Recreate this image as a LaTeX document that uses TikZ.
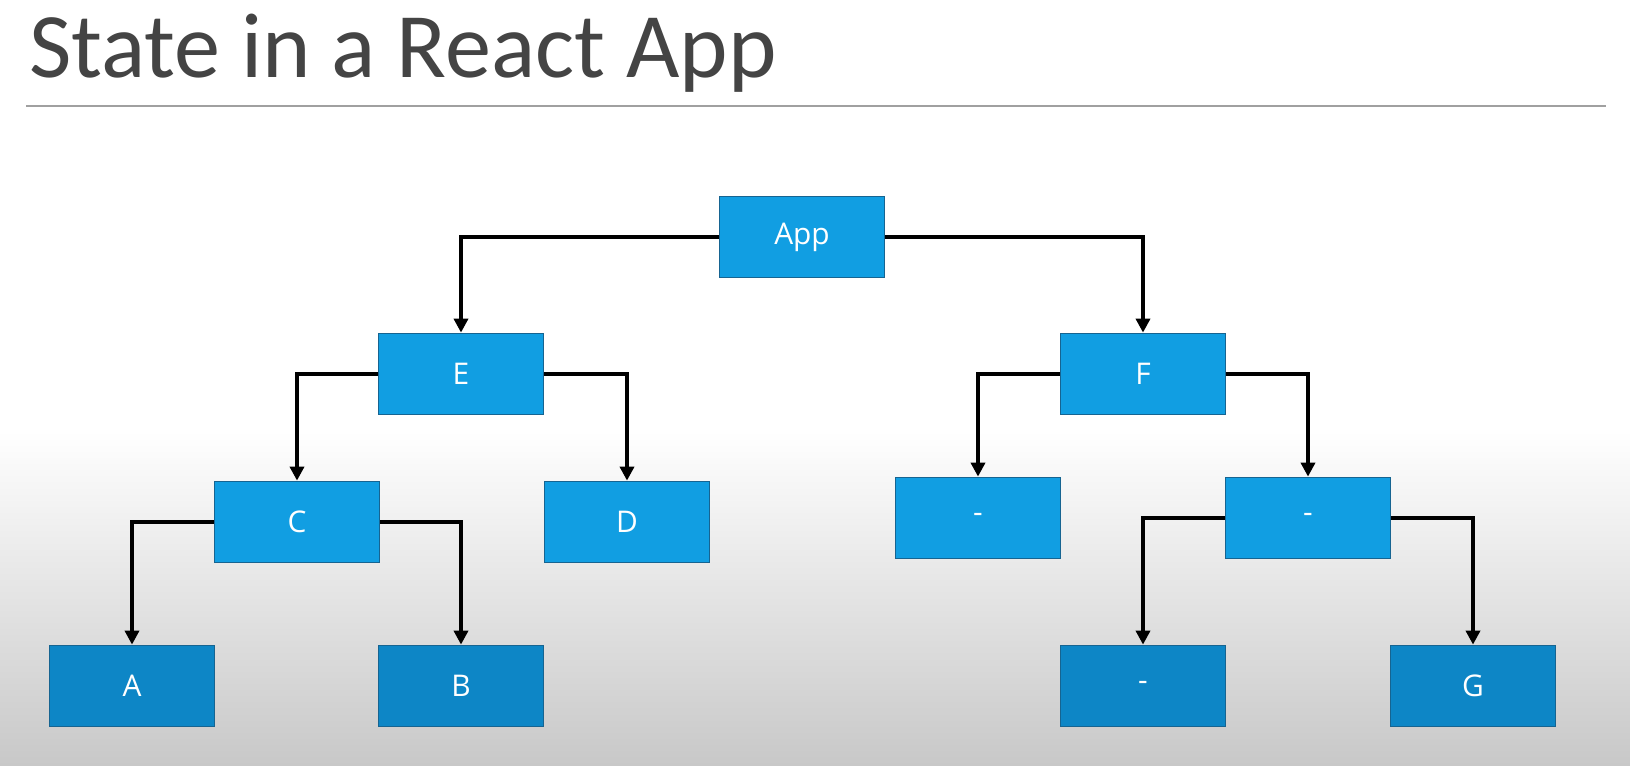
\documentclass[tikz,border=0pt]{standalone}
\usepackage{fontspec}
\setmainfont{Open Sans}
\newfontfamily\titlefont{Carlito}
\usetikzlibrary{arrows.meta,shapes}
\definecolor{boxblue}{RGB}{17,158,226}
\definecolor{boxlow}{RGB}{13,134,198}
\definecolor{boxline}{RGB}{22,100,145}
\definecolor{titlegray}{RGB}{68,68,68}
\definecolor{rulegray}{RGB}{160,160,160}
\definecolor{shadegray}{RGB}{200,200,200}
\tikzstyle{comp}=[rectangle, draw=boxline, fill=boxblue
%,rounded corners
,line width=1pt
,minimum width=3.3cm, minimum height=1.62cm
,inner sep=0pt, text=white
,font=\fontsize{17}{20}\selectfont
]
\tikzstyle{leaf}=[comp, fill=boxlow]
\tikzstyle{edge} = [draw, line width=2.3pt, -{Triangle[length=8pt,width=8pt]}]

\begin{document}
\begin{tikzpicture}[x=0.02cm, y=-0.02cm]
    % Background of the slide
    \fill[white] (0,0) rectangle (1630,430);
    \shade[top color=white, bottom color=shadegray] (0,430) rectangle (1630,766);
    \useasboundingbox (0,0) rectangle (1630,766);

    % Title and the rule under it
    \node[anchor=base west, inner sep=0pt, text=titlegray, font=\titlefont\fontsize{52.5}{60}\selectfont] (title) at (29,78) {State in a React App};
    \draw[rulegray, line width=0.8pt] (26,106) -- (1606,106);

    % First we draw the components
    \foreach \pos/\name/\txt in {{(802,237)/App/App}, {(461,374)/E/E}, {(1143,374)/F/F}, {(297,522)/C/C}, {(627,522)/D/D}, {(978,518)/N1/-}, {(1308,518)/N2/-}}
        \node[comp] (\name) at \pos {\txt};
    \foreach \pos/\name/\txt in {{(132,686)/A/A}, {(461,686)/B/B}, {(1143,686)/N3/-}, {(1473,686)/G/G}}
        \node[leaf] (\name) at \pos {\txt};

    % Connect parents with children
    \foreach \source/ \dest in {App/E, App/F, E/C, E/D, F/N1, F/N2, C/A, C/B, N2/N3, N2/G}
        \path[edge] (\source) -| (\dest.north);

\end{tikzpicture}
\end{document}
